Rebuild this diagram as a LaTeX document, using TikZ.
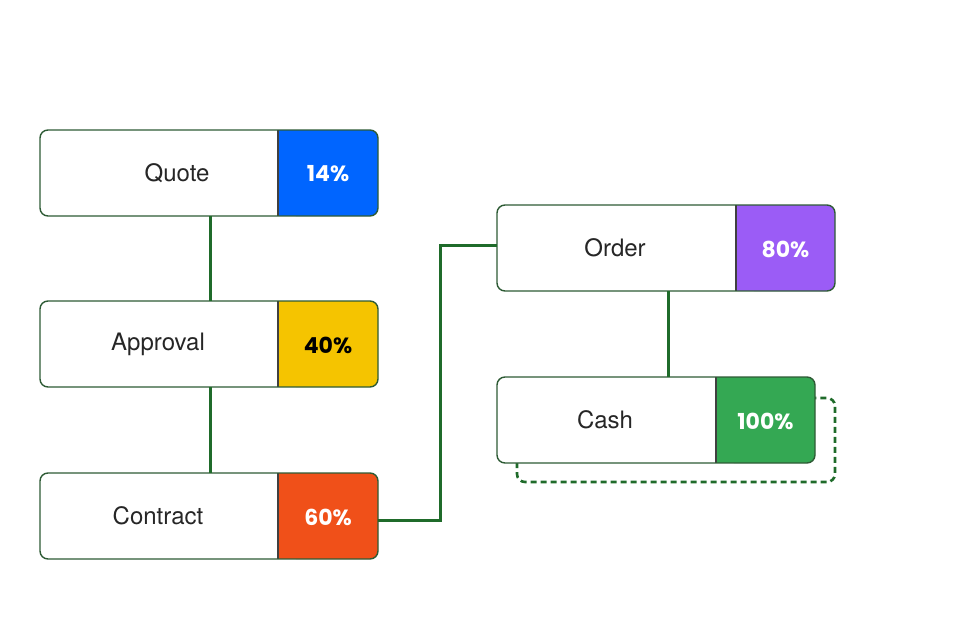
\documentclass[tikz,border=0pt]{standalone}
\usepackage{fontspec}
\setmainfont{TeX Gyre Heros}
\newfontfamily\pop{Poppins}
\definecolor{edge}{HTML}{2E5B35}
\definecolor{wire}{HTML}{1F6B2A}
\definecolor{cblue}{HTML}{0065FF}
\definecolor{cyel}{HTML}{F5C400}
\definecolor{cred}{HTML}{F05019}
\definecolor{cpur}{HTML}{9B5CF6}
\definecolor{cgrn}{HTML}{34A853}
\newcommand\stagebox[9]{%
 % name, x, y(top), split x, right x, label x, label, pct, color, (text colour via \pctcol)
 \fill[white,rounded corners=8] (#2,#3) rectangle (#5,#3+86);
 \fill[#9,rounded corners=8] (#4+10,#3) rectangle (#5,#3+86);
 \fill[#9] (#4,#3) rectangle (#4+30,#3+86);
 \draw[black!75,line width=1.2pt] (#4,#3) -- (#4,#3+86);
 \draw[edge,line width=1.4pt,rounded corners=8] (#2,#3) rectangle (#5,#3+86);
 \node[minimum width=#5-#2,minimum height=86,inner sep=0,anchor=north west] (#1) at (#2,#3) {};
 \node[font=\fontsize{24}{28}\selectfont,text=black!85] (#1l) at (#6,#3+43) {#7};
 \node[font=\pop\bfseries\fontsize{22}{26}\selectfont,text=\pctcol] (#1p) at ({(#4+#5)/2},#3+44) {#8};
}
\def\pctcol{white}
\begin{document}
\begin{tikzpicture}[x=1pt,y=-1pt,wirestyle/.style={wire,line width=3pt}]
\useasboundingbox (0,0) rectangle (960,618);
\draw[wire,line width=2.6pt,dash pattern=on 6pt off 4pt,rounded corners=8] (517,462) -- (517,482) -- (835,482) -- (835,398) -- (815,398);
\stagebox{quote}{40}{130}{278}{378}{177}{Quote}{14\%}{cblue}
\def\pctcol{black}
\stagebox{approval}{40}{301}{278}{378}{158}{Approval}{40\%}{cyel}
\def\pctcol{white}
\stagebox{contract}{40}{473}{278}{378}{158}{Contract}{60\%}{cred}
\stagebox{order}{497}{205}{736}{835}{615}{Order}{80\%}{cpur}
\stagebox{cash}{497}{377}{716}{815}{605}{Cash}{100\%}{cgrn}
\draw[wirestyle] (approval.north -| 210,0) -- (quote.south -| 210,0);
\draw[wirestyle] (contract.north -| 210,0) -- (approval.south -| 210,0);
\draw[wirestyle] (order.south -| 668,0) -- (cash.north -| 668,0);
\draw[wirestyle] (contract.east |- 0,520) -- (440,520) |- (order.west |- 0,245);
\end{tikzpicture}
\end{document}
